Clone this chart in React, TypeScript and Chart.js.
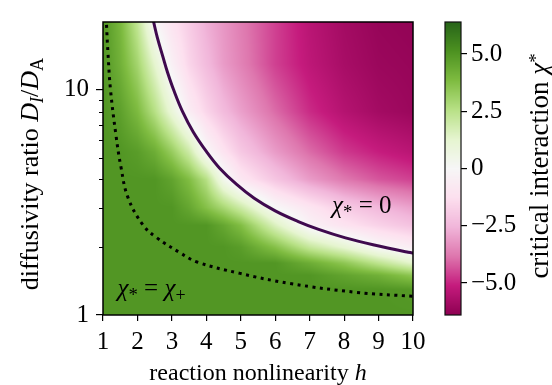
import React, { useEffect, useRef } from 'react';
import { Chart, registerables } from 'chart.js';
Chart.register(...registerables);

const FONT = "'Liberation Serif', 'Times New Roman', serif";
const FS = 25;
const FS_X = 24;
const FS_V = 26;
const FS_CB = 27;

// grid of critical interaction values chi* (rows: D_I/D_A, columns: h)
const H_NODES = [1, 1.5, 2, 2.5, 3, 3.5, 4, 4.5, 5, 6, 7, 8, 9, 10];
const D_NODES = [1, 1.3, 1.5, 1.7, 2, 2.5, 3, 4, 5.3, 8, 13, 20];
const CHI_D1 = [5, 5, 5, 5, 5, 5, 5, 5, 5, 5, 5, 5, 5, 5];
const CHI_D1_3 = [5, 5, 5, 5, 5, 5, 5, 5, 5, 5, 5, 5, 5, 4.9];
const CHI_D1_5 = [5, 5, 5, 5, 5, 5, 5, 5, 5, 5, 5, 4.6, 4.2, 3.5];
const CHI_D1_7 = [5, 5, 5, 5, 5, 5, 5, 5, 5, 5, 4.3, 3.5, 2.4, 1.3];
const CHI_D2 = [5, 5, 5, 5, 5, 5, 5, 5, 4.8, 3.7, 2.2, 1.2, 0.0, -0.6];
const CHI_D2_5 = [5, 5, 5, 5, 5, 5, 5, 4.5, 3.8, 1.6, -0.3, -1.1, -1.7, -2.2];
const CHI_D3 = [5, 5, 5, 5, 5, 4.5, 3.7, 2.9, 2.0, 0.0, -1.0, -1.9, -2.5, -3.0];
const CHI_D4 = [5, 5, 5, 5, 4.6, 3.8, 2.6, 0.4, -0.9, -2.1, -3.1, -3.8, -4.3, -4.6];
const CHI_D5_3 = [5, 5, 4.8, 4.3, 3.3, 2.0, 0.0, -1.1, -2.0, -3.1, -4.0, -4.7, -5.1, -5.4];
const CHI_D8 = [5, 4.7, 3.9, 2.6, 1.0, -0.6, -1.6, -2.4, -3.0, -4.0, -4.9, -5.5, -5.9, -6.1];
const CHI_D13 = [5, 4.2, 3.0, 1.3, -0.4, -1.6, -2.4, -3.1, -3.6, -4.6, -5.3, -5.8, -6.1, -6.2];
const CHI_D20 = [5, 4.0, 2.3, 0.0, -1.1, -1.9, -2.7, -3.2, -3.7, -4.6, -5.4, -5.9, -6.2, -6.3];
const CHI_ROWS = [CHI_D1, CHI_D1_3, CHI_D1_5, CHI_D1_7, CHI_D2, CHI_D2_5, CHI_D3, CHI_D4, CHI_D5_3, CHI_D8, CHI_D13, CHI_D20];

// chi* = 0 contour
const ZERO_H = [2.44, 2.47, 2.58, 2.74, 2.87, 3.05, 3.31, 3.62, 4.01, 4.38, 4.88, 5.39, 6.0, 6.67, 7.26, 8.04, 8.84, 9.86, 10.06];
const ZERO_D = [21, 20, 17, 14, 12, 10, 8, 6.5, 5.3, 4.5, 3.8, 3.3, 2.9, 2.6, 2.4, 2.2, 2.05, 1.9, 1.88];
// chi* = chi+ boundary
const PLUS_H = [1.095, 1.1, 1.145, 1.218, 1.377, 1.52, 1.726, 2.161, 2.568, 3.236, 3.729, 4.978, 6.43, 8.375, 10];
const PLUS_D = [21, 19.7, 14.5, 10, 6.28, 4.55, 3.32, 2.51, 2.2, 1.89, 1.72, 1.53, 1.38, 1.26, 1.21];

const X_TICKS = [1, 2, 3, 4, 5, 6, 7, 8, 9, 10];
const Y_MAJOR = [1, 10];
const Y_MINOR = [2, 3, 4, 5, 6, 7, 8, 9];
const CB_TICKS = [-5, -2.5, 0, 2.5, 5];
const CB_MIN = -6.4;
const CB_MAX = 6.4;

const PIYG = ['#8e0152', '#c51b7d', '#de77ae', '#f1b6da', '#fde0ef', '#f7f7f7', '#e6f5d0', '#b8e186', '#7fbc41', '#4d9221', '#276419'];
const PIYG_RGB = PIYG.map((c) => [parseInt(c.slice(1, 3), 16), parseInt(c.slice(3, 5), 16), parseInt(c.slice(5, 7), 16)]);

function cmap(v: number): number[] {
  let t = (v - CB_MIN) / (CB_MAX - CB_MIN);
  t = Math.max(0, Math.min(1, t));
  const s = t * 10;
  const i = Math.min(9, Math.floor(s));
  const f = s - i;
  const a = PIYG_RGB[i], b = PIYG_RGB[i + 1];
  return [a[0] + (b[0] - a[0]) * f, a[1] + (b[1] - a[1]) * f, a[2] + (b[2] - a[2]) * f];
}

function locate(nodes: number[], v: number): [number, number] {
  const n = nodes.length;
  if (v <= nodes[0]) return [0, 0];
  if (v >= nodes[n - 1]) return [n - 2, 1];
  let i = 0;
  while (i < n - 2 && v > nodes[i + 1]) i++;
  return [i, (v - nodes[i]) / (nodes[i + 1] - nodes[i])];
}

type Seg = { t: string; it?: boolean; sc?: number; dy?: number };
function segFont(s: Seg, size: number) {
  return `${s.it ? 'italic ' : ''}${(size * (s.sc ?? 1)).toFixed(1)}px ${FONT}`;
}
function drawRich(ctx: any, segs: Seg[], size: number, x: number, y: number, rot: number, align: 'center' | 'left') {
  ctx.save();
  ctx.translate(x, y);
  ctx.rotate(rot);
  let w = 0;
  for (const s of segs) {
    ctx.font = segFont(s, size);
    w += ctx.measureText(s.t).width;
  }
  let cx = align === 'center' ? -w / 2 : 0;
  ctx.fillStyle = '#000';
  ctx.textBaseline = 'alphabetic';
  ctx.textAlign = 'left';
  for (const s of segs) {
    ctx.font = segFont(s, size);
    ctx.fillText(s.t, cx, s.dy ?? 0);
    cx += ctx.measureText(s.t).width;
  }
  ctx.restore();
}

const heatPlugin = {
  id: 'heat',
  beforeDatasetsDraw(chart: any) {
    const { ctx, chartArea: ca, scales } = chart;
    const xs = scales.x, ys = scales.y;
    const x0 = Math.round(ca.left), y0 = Math.round(ca.top);
    const w = Math.round(ca.right) - x0, h = Math.round(ca.bottom) - y0;
    const off = document.createElement('canvas');
    off.width = w;
    off.height = h;
    const octx = off.getContext('2d') as CanvasRenderingContext2D;
    const img = octx.createImageData(w, h);
    const logD = D_NODES.map((d) => Math.log10(d));
    const cols = [] as [number, number][];
    for (let px = 0; px < w; px++) cols.push(locate(H_NODES, xs.getValueForPixel(x0 + px + 0.5)));
    for (let py = 0; py < h; py++) {
      const [j, fy] = locate(logD, Math.log10(ys.getValueForPixel(y0 + py + 0.5)));
      const r0 = CHI_ROWS[j], r1 = CHI_ROWS[j + 1];
      for (let px = 0; px < w; px++) {
        const [i, fx] = cols[px];
        const a = r0[i] + (r0[i + 1] - r0[i]) * fx;
        const b = r1[i] + (r1[i + 1] - r1[i]) * fx;
        const c = cmap(a + (b - a) * fy);
        const k = (py * w + px) * 4;
        img.data[k] = c[0];
        img.data[k + 1] = c[1];
        img.data[k + 2] = c[2];
        img.data[k + 3] = 255;
      }
    }
    octx.putImageData(img, 0, 0);
    ctx.drawImage(off, x0, y0);

    // colorbar
    const cb = scales.cb, gap = scales.gap;
    const cbx1 = gap.right, cbx0 = gap.right - 16;
    for (let py = Math.round(cb.top); py < Math.round(cb.bottom); py++) {
      const c = cmap(cb.getValueForPixel(py + 0.5));
      ctx.fillStyle = `rgb(${c[0] | 0},${c[1] | 0},${c[2] | 0})`;
      ctx.fillRect(cbx0, py, cbx1 - cbx0, 1);
    }
    ctx.save();
    ctx.strokeStyle = '#111';
    ctx.lineWidth = 1.2;
    ctx.strokeRect(cbx0, cb.top, cbx1 - cbx0, cb.bottom - cb.top);
    ctx.restore();
  },
  afterDatasetsDraw(chart: any) {
    const { ctx, chartArea: ca, scales } = chart;
    const xs = scales.x, ys = scales.y;
    // annotations
    drawRich(ctx, [{ t: 'χ', it: true }, { t: '*', sc: 0.75, dy: 5 }, { t: ' = 0' }], FS, xs.getPixelForValue(7.65), ys.getPixelForValue(2.83), 0, 'left');
    drawRich(ctx, [{ t: 'χ', it: true }, { t: '*', sc: 0.75, dy: 5 }, { t: ' = ' }, { t: 'χ', it: true }, { t: '+', sc: 0.72, dy: 5 }], FS, xs.getPixelForValue(1.42), ys.getPixelForValue(1.21), 0, 'left');
    // frame
    ctx.save();
    ctx.strokeStyle = '#000';
    ctx.lineWidth = 1.5;
    ctx.strokeRect(ca.left, ca.top, ca.right - ca.left, ca.bottom - ca.top);
    // minor ticks
    ctx.lineWidth = 1.1;
    ctx.beginPath();
    for (const v of Y_MINOR) {
      const y = Math.round(ys.getPixelForValue(v)) + 0.5;
      ctx.moveTo(ca.left - 4, y);
      ctx.lineTo(ca.left, y);
    }
    ctx.stroke();
    ctx.restore();
    // axis titles
    drawRich(ctx, [{ t: 'reaction nonlinearity ' }, { t: 'h', it: true }], FS_X, (ca.left + ca.right) / 2, 380, 0, 'center');
    drawRich(ctx, [{ t: 'diffusivity ratio ' }, { t: 'D', it: true }, { t: 'I', it: true, sc: 0.7, dy: 5 }, { t: '/' }, { t: 'D', it: true }, { t: 'A', sc: 0.7, dy: 5 }], FS_V, 38, 174, -Math.PI / 2, 'center');
    drawRich(ctx, [{ t: 'critical interaction ' }, { t: 'χ', it: true }, { t: '*', sc: 0.7, dy: -6 }], FS_CB, 548, 166, -Math.PI / 2, 'center');
  },
};

export default function App() {
  const ref = useRef<HTMLCanvasElement>(null);
  useEffect(() => {
    if (!ref.current) return;
    Chart.defaults.font.family = FONT;
    const tickFont = { family: FONT, size: FS };
    const chart = new Chart(ref.current, {
      type: 'scatter',
      data: {
        datasets: [
          {
            label: 'chi0',
            data: ZERO_H.map((h, i) => ({ x: h, y: ZERO_D[i] })),
            showLine: true,
            borderColor: '#3f0a4e',
            borderWidth: 3,
            pointRadius: 0,
            tension: 0.4,
            clip: 0,
          } as any,
          {
            label: 'chiplus',
            data: PLUS_H.map((h, i) => ({ x: h, y: PLUS_D[i] })),
            showLine: true,
            borderColor: '#000',
            borderWidth: 3,
            borderDash: [3, 4.5],
            borderCapStyle: 'butt',
            pointRadius: 0,
            tension: 0.4,
            clip: 0,
          } as any,
        ],
      },
      options: {
        responsive: false,
        animation: false,
        devicePixelRatio: 1,
        layout: { padding: { top: 19, left: 0, right: 0, bottom: 0 } },
        plugins: { legend: { display: false }, tooltip: { enabled: false } },
        scales: {
          x: {
            type: 'linear',
            position: 'bottom',
            min: 1,
            max: 10,
            afterBuildTicks: (s: any) => {
              s.ticks = X_TICKS.map((v) => ({ value: v }));
            },
            ticks: { font: tickFont, color: '#000', padding: 6, maxRotation: 0, autoSkip: false, callback: (v: any) => String(v) },
            grid: { display: true, drawOnChartArea: false, drawTicks: true, tickLength: 6, color: '#000', lineWidth: 1.2 },
            border: { display: false },
            afterFit: (s: any) => {
              s.height = 70;
            },
          },
          y: {
            type: 'logarithmic',
            position: 'left',
            min: 1,
            max: 20,
            afterBuildTicks: (s: any) => {
              s.ticks = Y_MAJOR.map((v) => ({ value: v }));
            },
            ticks: { font: tickFont, color: '#000', padding: 7, autoSkip: false, callback: (v: any) => String(v) },
            grid: { display: true, drawOnChartArea: false, drawTicks: true, tickLength: 7, color: '#000', lineWidth: 1.2 },
            border: { display: false },
            afterFit: (s: any) => {
              s.width = 103;
            },
          },
          gap: {
            type: 'linear',
            position: 'right',
            weight: 0,
            display: true,
            ticks: { display: false },
            grid: { display: false },
            border: { display: false },
            afterFit: (s: any) => {
              s.width = 48;
            },
          },
          cb: {
            type: 'linear',
            position: 'right',
            weight: 1,
            min: CB_MIN,
            max: CB_MAX,
            afterBuildTicks: (s: any) => {
              s.ticks = CB_TICKS.map((v) => ({ value: v }));
            },
            ticks: {
              font: tickFont,
              color: '#000',
              padding: 4,
              callback: (v: any) => (v === 0 ? '0' : (v < 0 ? '\u2212' : '') + Math.abs(v).toFixed(1)),
            },
            grid: { display: true, drawOnChartArea: false, drawTicks: true, tickLength: 6, color: '#000', lineWidth: 1.2 },
            border: { display: false },
            afterFit: (s: any) => {
              s.width = 91;
            },
          },
        } as any,
      },
      plugins: [heatPlugin],
    });
    return () => chart.destroy();
  }, []);
  return (
    <div style={{ position: 'absolute', left: 0, top: 0, width: 552, height: 385, background: '#fff' }}>
      <canvas ref={ref} width={552} height={385} style={{ display: 'block' }} />
    </div>
  );
}
